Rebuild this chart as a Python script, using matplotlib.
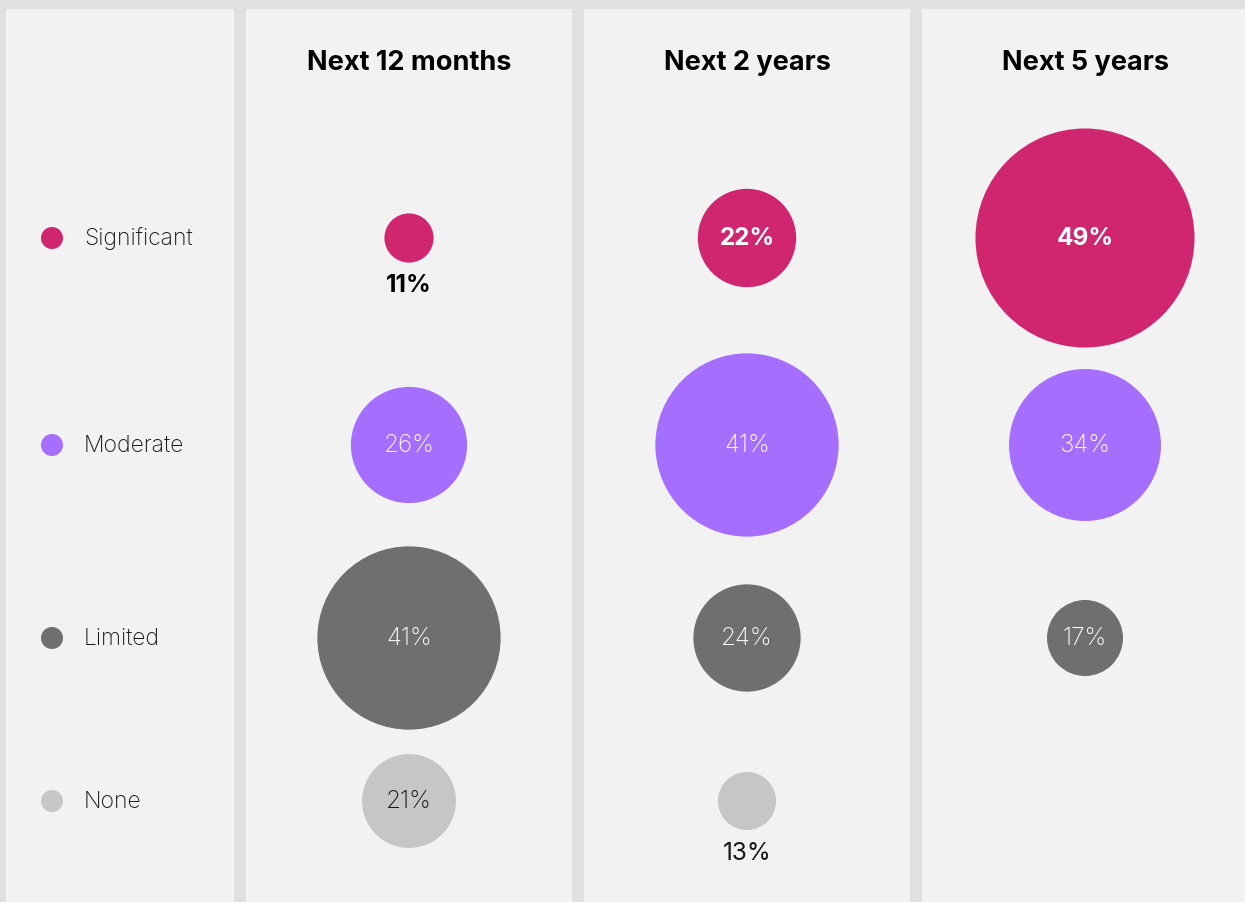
import matplotlib.pyplot as plt
from matplotlib.patches import Circle, Rectangle

plt.rcParams['font.family'] = ['Inter', 'DejaVu Sans']

# data
periods = ["Next 12 months", "Next 2 years", "Next 5 years"]
levels = ["Significant", "Moderate", "Limited", "None"]
colors = ["#d02670", "#a56eff", "#6f6f6f", "#c6c6c6"]
significant = [11, 22, 49]
moderate = [26, 41, 34]
limited = [41, 24, 17]
none = [21, 13, None]
values = [significant, moderate, limited, none]

W, H = 1245, 903
fig = plt.figure(figsize=(W / 100, H / 100), dpi=100)
fig.patch.set_facecolor("#e0e0e0")
ax = fig.add_axes([0, 0, 1, 1])
ax.set_xlim(0, W)
ax.set_ylim(H, 0)
ax.axis("off")

# layout (pixels)
row_y = [239, 446, 639, 802]
col_x = [409, 747, 1085]
panels = [(6, 228), (246, 326), (584, 326), (922, 330)]
px_per_pct = 4.47  # diameter per percentage point

for x0, w in panels:
    ax.add_patch(Rectangle((x0, 10), w, H, facecolor="#f2f2f2", edgecolor="none"))

# legend column
for y, lab, c in zip(row_y, levels, colors):
    ax.add_patch(Circle((52, y), 11, facecolor=c, edgecolor="none"))
    ax.text(84, y, lab, fontsize=16.5, color="#161616", va="center", ha="left",
            fontweight="light")

for j, (x, title) in enumerate(zip(col_x, periods)):
    ax.text(x, 63, title, fontsize=19.5, fontweight="bold", color="#000000",
            ha="center", va="center")
    for i, (y, c) in enumerate(zip(row_y, colors)):
        v = values[i][j]
        if v is None:
            continue
        r = v * px_per_pct / 2
        ax.add_patch(Circle((x, y), r, facecolor=c, edgecolor="none"))
        bold = i == 0
        if v < 15:
            ax.text(x, y + r + 22, f"{v}%", fontsize=17.5, ha="center", va="center",
                    color="#000000" if bold else "#161616",
                    fontweight="bold" if bold else "normal")
        else:
            tc = "#161616" if i == 3 else "#ffffff"
            ax.text(x, y, f"{v}%", fontsize=17.5, ha="center", va="center",
                    color=tc, fontweight="bold" if bold else "light")

fig.savefig("out.png", dpi=100, facecolor=fig.get_facecolor())
